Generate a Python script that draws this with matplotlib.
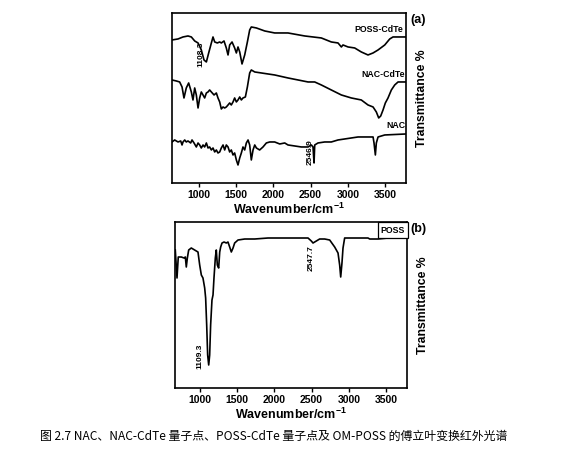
import matplotlib.pyplot as plt

plt.rcParams['font.family'] = ['Liberation Sans', 'DejaVu Sans']
plt.rcParams['font.weight'] = 'bold'
plt.rcParams['mathtext.fontset'] = 'custom'
plt.rcParams['mathtext.rm'] = 'Liberation Sans:bold'
plt.rcParams['mathtext.default'] = 'rm'

# panel (a): POSS-CdTe, NAC-CdTe, NAC (offset traces, arbitrary transmittance units)
poss_cdte_w = [637, 718, 785, 852, 897, 942, 987, 1031, 1067, 1099, 1130, 1166, 1188, 1211,
               1246, 1278, 1300, 1336, 1367, 1390, 1412, 1444, 1479, 1502, 1524, 1547, 1578,
               1614, 1650, 1681, 1703, 1771, 1883, 2017, 2196, 2420, 2644, 2778, 2868, 2913,
               2935, 3003, 3092, 3181, 3271, 3339, 3406, 3496, 3563, 3607, 3782]
poss_cdte_t = [143, 144, 146, 147, 146, 142, 140, 133, 123, 121, 130, 140, 146, 141,
               140, 141, 140, 142, 135, 128, 138, 141, 135, 130, 136, 131, 119,
               128, 141, 153, 156, 155, 152, 150, 150, 147, 145, 141, 140, 136,
               138, 136, 135, 131, 128, 130, 133, 138, 144, 146, 146]

nac_cdte_w = [637, 695, 740, 772, 798, 829, 861, 897, 919, 942, 964, 987, 1009, 1031, 1054,
              1076, 1099, 1121, 1143, 1166, 1202, 1233, 1255, 1278, 1300, 1323, 1345, 1367,
              1390, 1412, 1434, 1457, 1479, 1502, 1524, 1547, 1569, 1591, 1623, 1650, 1681,
              1703, 1749, 1838, 2017, 2196, 2331, 2465, 2555, 2644, 2778, 2913, 3047, 3181,
              3271, 3339, 3383, 3415, 3442, 3473, 3504, 3540, 3585, 3630, 3675, 3782]
nac_cdte_t = [103, 102, 101, 96, 85, 95, 100, 91, 83, 95, 88, 75, 85, 91, 88,
              85, 90, 91, 93, 91, 88, 90, 85, 81, 74, 76, 75, 76,
              78, 80, 78, 81, 85, 81, 83, 86, 83, 85, 86, 96, 110,
              113, 111, 110, 108, 105, 103, 101, 101, 98, 93, 88, 85, 83,
              78, 76, 71, 65, 67, 73, 80, 85, 93, 98, 101, 101]

nac_w = [637, 673, 718, 754, 772, 785, 808, 829, 852, 888, 906, 933, 964, 987, 1009, 1031,
         1054, 1076, 1099, 1121, 1143, 1166, 1188, 1211, 1233, 1255, 1278, 1300, 1323, 1345,
         1367, 1390, 1412, 1434, 1457, 1479, 1502, 1524, 1547, 1569, 1591, 1614, 1636, 1659,
         1681, 1703, 1726, 1749, 1771, 1815, 1860, 1905, 1950, 2017, 2085, 2152,
         2196, 2286, 2375, 2465, 2510, 2532, 2546, 2555, 2599, 2689, 2778, 2868, 2958, 3047,
         3137, 3271, 3339, 3352, 3370, 3383, 3406, 3496, 3782]
nac_t = [41, 43, 41, 42, 38, 41, 43, 41, 42, 40, 43, 40, 36, 40, 38, 35,
         38, 36, 40, 35, 36, 33, 35, 31, 33, 30, 31, 35, 38, 33,
         38, 36, 31, 33, 28, 30, 23, 18, 25, 30, 36, 33, 40, 43,
         38, 23, 33, 38, 35, 33, 36, 40, 41, 41, 39, 40,
         38, 37, 36, 36, 38, 36, 20, 38, 40, 41, 41, 43, 44, 45,
         46, 46, 46, 40, 28, 40, 46, 48, 49]

# panel (b): POSS
poss_w = [668, 691, 708, 749, 785, 803, 816, 830, 848, 883, 928, 973, 996, 1018, 1040,
          1063, 1076, 1090, 1103, 1117, 1130, 1143, 1161, 1175, 1188, 1206, 1219, 1233,
          1251, 1265, 1278, 1296, 1323, 1354, 1376, 1399, 1421, 1444, 1466, 1511, 1601,
          1735, 1914, 2093, 2183, 2317, 2452, 2496, 2519, 2541, 2608, 2676, 2743, 2810,
          2855, 2877, 2891, 2908, 2922, 2944, 3079, 3258, 3281, 3392, 3527, 3706, 3782]
poss_t = [138, 110, 131, 131, 130, 131, 121, 130, 138, 140, 138, 136, 123, 113, 110,
          100, 90, 63, 33, 23, 33, 63, 88, 93, 110, 130, 138, 123,
          120, 136, 141, 145, 146, 145, 146, 141, 136, 140, 145, 148, 149,
          149, 150, 150, 150, 150, 150, 147, 145, 146, 149, 149, 148, 141,
          135, 123, 111, 125, 140, 150, 150, 150, 149, 149, 150, 150, 150]

ticks = [1000, 1500, 2000, 2500, 3000, 3500]

fig = plt.figure(figsize=(5.76, 4.63), dpi=100)
ax1 = fig.add_axes([0.2986, 0.6048, 0.4063, 0.3672])
ax2 = fig.add_axes([0.3038, 0.1620, 0.4028, 0.3585])


def style(ax):
    ax.set_xticks(ticks)
    ax.set_yticks([])
    ax.tick_params(axis='x', direction='out', length=3, width=1, labelsize=7.5, pad=2)
    for s in ax.spines.values():
        s.set_linewidth(1.2)
    ax.set_xlabel('Wavenumber/cm$^{-1}$', fontsize=9, fontweight='bold', labelpad=1)
    ax.yaxis.set_label_position('right')
    ax.set_ylabel('Transmittance %', fontsize=8.8, fontweight='bold', rotation=90, labelpad=7)


ax1.plot(poss_cdte_w, poss_cdte_t, color='black', lw=1.2)
ax1.plot(nac_cdte_w, nac_cdte_t, color='black', lw=1.2)
ax1.plot(nac_w, nac_t, color='black', lw=1.2)
ax1.set_xlim(637, 3782)
ax1.set_ylim(0, 170)
style(ax1)
ax1.text(3745, 153, 'POSS-CdTe', ha='right', va='center', fontsize=6.3)
ax1.text(3770, 108, 'NAC-CdTe', ha='right', va='center', fontsize=6.3)
ax1.text(3770, 57, 'NAC', ha='right', va='center', fontsize=6.3)
ax1.text(1020, 129, '1108.3', rotation=90, ha='center', va='center', fontsize=6)
ax1.text(2490, 31, '2546.9', rotation=90, ha='center', va='center', fontsize=6)
ax1.text(1.05, 0.96, '(a)', transform=ax1.transAxes, ha='center', va='center', fontsize=9)

ax2.plot(poss_w, poss_t, color='black', lw=1.2)
ax2.set_xlim(664, 3782)
ax2.set_ylim(0, 166)
style(ax2)
ax2.text(3755, 158, 'POSS', ha='right', va='center', fontsize=6.3,
         bbox=dict(boxstyle='square,pad=0.35', fc='white', ec='black', lw=0.9))
ax2.text(1000, 32, '1109.3', rotation=90, ha='center', va='center', fontsize=6)
ax2.text(2492, 130, '2547.7', rotation=90, ha='center', va='center', fontsize=6)
ax2.text(1.05, 0.96, '(b)', transform=ax2.transAxes, ha='center', va='center', fontsize=9)

fig.text(0.475, 0.058, '图 2.7 NAC、NAC-CdTe 量子点、POSS-CdTe 量子点及 OM-POSS 的傅立叶变换红外光谱',
         ha='center', va='center', fontsize=8.6, fontweight='normal',
         family=['Noto Sans CJK SC', 'DejaVu Sans'])

fig.savefig('out.png', dpi=100)
